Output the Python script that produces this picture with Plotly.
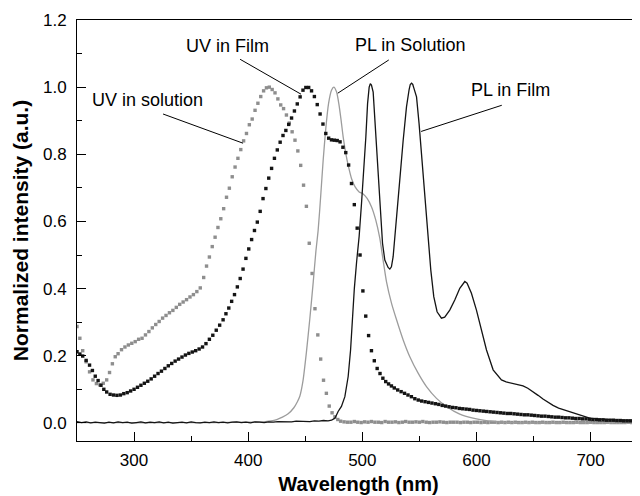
import plotly.graph_objects as go

# ---------------- data ----------------
# UV absorption in solution (grey squares)
uv_sol_x = [250, 252.5, 255, 258, 261, 264, 267, 270, 273, 276, 278.5, 281, 283.5, 286, 289, 292, 295, 298,
            301, 304, 307, 310, 313, 316, 319, 322, 325, 328, 331, 334, 337, 340, 343, 346, 349, 352, 355, 358,
            361, 363.5, 366, 368.5, 371, 373.5, 376, 378.5, 381, 383.5, 386, 388.5, 391, 393.5, 396, 398.5,
            401, 403.5, 406, 408.5, 411, 413.5, 416, 418.5, 421, 423.5, 426, 428.5, 431, 433.5, 436, 438.5,
            441, 443.5, 446, 448.5, 451, 453.5, 456, 458.5, 461, 463.5, 466, 468.5, 471, 473.5, 476, 478.5, 481]
uv_sol_y = [0.287, 0.252, 0.215, 0.182, 0.152, 0.128, 0.117, 0.113, 0.118, 0.128, 0.150, 0.176, 0.197, 0.206,
            0.218, 0.226, 0.232, 0.237, 0.242, 0.249, 0.252, 0.262, 0.272, 0.283, 0.293, 0.302, 0.312, 0.320,
            0.328, 0.335, 0.344, 0.353, 0.360, 0.367, 0.375, 0.382, 0.391, 0.402, 0.433, 0.467, 0.494, 0.525,
            0.553, 0.582, 0.608, 0.638, 0.672, 0.699, 0.733, 0.762, 0.788, 0.814, 0.840, 0.862, 0.888, 0.905,
            0.931, 0.952, 0.972, 0.989, 0.998, 1.000, 0.993, 0.983, 0.965, 0.947, 0.936, 0.917, 0.893, 0.867,
            0.842, 0.810, 0.767, 0.708, 0.645, 0.535, 0.445, 0.340, 0.262, 0.190, 0.127, 0.088, 0.050, 0.030,
            0.018, 0.010, 0.005]
uv_sol_tail_x = [484, 487, 490, 493, 496, 499, 502, 505, 508, 511, 514, 517, 520, 523, 526, 529, 532, 535, 538,
                 541, 544, 547, 550, 553, 556, 559, 562, 565, 568, 571, 574, 577, 580, 583, 586, 589, 592, 595,
                 598, 601, 604, 607, 610, 613, 616, 619, 622, 625, 628, 631, 634, 637, 640, 643, 646, 649, 652,
                 655, 658, 661, 664, 667, 670, 673, 676, 679, 682, 685, 688, 691, 694, 697, 700, 703, 706, 709,
                 712, 715, 718, 721, 724, 727, 730, 733, 736, 739, 742, 745]
uv_sol_tail_y = [0.003, 0.002, 0.002, 0.004, 0.002, 0.001, 0.003, 0.002, 0.004, 0.002,
                 0.002, 0.001, 0.004, 0.002, 0.002, 0.003, 0.001, 0.002, 0.004, 0.002,
                 0.002, 0.003, 0.002, 0.004, 0.002, 0.001, 0.002, 0.002, 0.003, 0.002,
                 0.001, 0.002, 0.002, 0.002, 0.001, 0.002, 0.002, 0.001, 0.002, 0.002,
                 0.001, 0.002, 0.001, 0.002, 0.002, 0.001, 0.002, 0.001, 0.002, 0.001,
                 0.002, 0.001, 0.001, 0.002, 0.001, 0.002, 0.001, 0.001, 0.002, 0.001,
                 0.001, 0.002, 0.001, 0.001, 0.002, 0.001, 0.001, 0.001, 0.002, 0.001,
                 0.001, 0.001, 0.002, 0.001, 0.001, 0.001, 0.001, 0.002, 0.001, 0.001,
                 0.001, 0.001, 0.001, 0.002, 0.001, 0.001, 0.001, 0.001]

# UV absorption in film (black squares)
uv_film_x = [250, 252.5, 255, 258, 261, 263.5, 266, 268.5, 271, 273.5, 276, 279, 282, 285, 288, 291, 294, 297,
             300, 303, 306, 309, 312, 315, 318, 321, 324, 327, 330, 333, 336, 339, 342, 345, 348, 351, 354, 357,
             360, 363, 366, 369, 372, 375, 378, 380.5, 383, 385.5, 388, 390.5, 393, 395.5, 398, 400.5, 403,
             405.5, 408, 410.5, 413, 415.5, 418, 420.5, 423, 425.5, 428, 430.5, 433, 435.5, 438, 440.5, 443,
             445.5, 448, 450.5, 453, 455.5, 458, 460.5, 463, 465.5, 468, 470.5, 473, 475.5, 478, 480.5, 483,
             485.5, 488, 490.5, 493, 495.5, 498, 500.5, 503, 505.5, 508, 510.5, 513, 515.5, 518, 520.5, 523,
             525.5, 528, 531, 534, 537, 540, 543, 546, 549, 552, 555, 558, 561, 564, 567, 570, 573, 576, 579,
             582, 585, 588, 591, 594, 597, 600, 603, 606, 609, 612, 615, 618, 621, 624, 627, 630, 633, 636,
             639, 642, 645, 648, 651, 654, 657, 660, 663, 666, 669, 672, 675, 678, 681, 684, 687, 690, 693,
             696, 699, 702, 705, 708, 711, 714, 717, 720, 723, 726, 729, 732, 735, 738, 741, 744]
uv_film_y = [0.212, 0.205, 0.199, 0.186, 0.172, 0.156, 0.139, 0.126, 0.112, 0.100, 0.092, 0.085, 0.083, 0.082,
             0.083, 0.087, 0.090, 0.095, 0.100, 0.106, 0.112, 0.118, 0.124, 0.131, 0.139, 0.147, 0.154, 0.162,
             0.170, 0.177, 0.184, 0.190, 0.196, 0.202, 0.207, 0.211, 0.215, 0.220, 0.226, 0.236, 0.249, 0.261,
             0.276, 0.291, 0.307, 0.325, 0.342, 0.362, 0.382, 0.405, 0.430, 0.458, 0.490, 0.518, 0.546, 0.573,
             0.598, 0.630, 0.668, 0.698, 0.729, 0.758, 0.788, 0.813, 0.836, 0.856, 0.871, 0.889, 0.908, 0.929,
             0.950, 0.971, 0.991, 0.999, 0.999, 0.989, 0.972, 0.948, 0.920, 0.890, 0.862, 0.848, 0.843, 0.842,
             0.841, 0.837, 0.821, 0.805, 0.768, 0.713, 0.650, 0.580, 0.500, 0.393, 0.318, 0.260, 0.215, 0.185,
             0.162, 0.147, 0.133, 0.123, 0.116, 0.110, 0.104, 0.098, 0.093, 0.088, 0.083, 0.078, 0.072, 0.068,
             0.065, 0.063, 0.061, 0.059, 0.057, 0.055, 0.052, 0.050, 0.048, 0.046, 0.045, 0.043, 0.042, 0.041,
             0.040, 0.038, 0.037, 0.036, 0.035, 0.034, 0.033, 0.032, 0.031, 0.030, 0.029, 0.028, 0.028, 0.027,
             0.026, 0.025, 0.024, 0.024, 0.023, 0.022, 0.021, 0.020, 0.020, 0.019, 0.018, 0.017, 0.017, 0.016,
             0.015, 0.015, 0.014, 0.013, 0.013, 0.012, 0.012, 0.011, 0.010, 0.010, 0.009, 0.009, 0.008, 0.008,
             0.008, 0.007, 0.007, 0.006, 0.006, 0.006, 0.005, 0.005, 0.005]

# PL in solution (grey line)
pl_sol_x = [250, 280, 310, 340, 370, 400, 410, 415, 420, 425, 430, 435, 440, 443, 445.3, 448, 451, 454, 457,
            459.3, 461.3, 463.7, 465.7, 468, 470.4, 473, 475, 477.4, 479.4, 481.2, 483.2, 485.5, 487.9, 490.5,
            493.7, 497.2, 500.7, 504.2, 508, 511.8, 515.3, 518.2, 521.2, 525.6, 530, 535.8, 541.6, 548.9,
            556.2, 565, 573.7, 585.4, 597, 608.7, 623.3, 640, 700, 745]
pl_sol_y = [0.001, 0.001, 0.000, 0.001, 0.001, 0.002, 0.003, 0.004, 0.006, 0.010, 0.017, 0.027, 0.045, 0.062,
            0.080, 0.125, 0.210, 0.310, 0.420, 0.510, 0.574, 0.684, 0.783, 0.877, 0.951, 0.991, 1.000, 0.986,
            0.951, 0.907, 0.852, 0.803, 0.763, 0.728, 0.703, 0.688, 0.682, 0.669, 0.644, 0.604, 0.550, 0.485,
            0.420, 0.356, 0.307, 0.247, 0.197, 0.148, 0.108, 0.073, 0.049, 0.026, 0.014, 0.007, 0.002, 0.000,
            0.000, 0.000]

# PL in film (black line): noisy baseline, then the vibronic bands
pl_film_x = [250, 254, 258, 262, 266, 270, 274, 278, 282, 286, 290, 294, 298, 302, 306, 310, 314, 318, 322,
             326, 330, 334, 338, 342, 346, 350, 354, 358, 362, 366, 370, 374, 378, 382, 386, 390, 394, 398,
             402, 406, 410, 414, 418, 422, 426, 430, 434, 438, 442, 446, 450, 454, 458, 462, 466, 470, 473,
             476, 478.8, 481.7, 484.7, 487.6, 489.7, 491.4, 493, 495, 497.2, 499.3, 501.3, 503.1, 504.6, 506,
             507, 508, 509.5, 511, 512.4, 514.2, 515.9, 517.7, 519.7, 522.6, 524.1, 525.5, 527, 530, 532.8,
             535.8, 538.7, 541, 542, 543.1, 544.2, 545.1, 547.5, 549.7, 551.8, 554.1, 556.2, 558.2, 560,
             562.6, 565.5, 569.3, 572.2, 576.6, 581, 585.4, 589.8, 591.8, 595.6, 600, 604.4, 608.8, 614.6,
             621.9, 626, 630.6, 635, 640.8, 645, 649.6, 654, 658.3, 663, 667.1, 672, 678.8, 684, 690.5, 695,
             699.2, 705, 712, 719.6, 730, 740, 745]
pl_film_y = [0.004, 0.001, 0.003, 0.000, 0.002, 0.001, -0.001, 0.002, 0.000, 0.003, 0.001, 0.002, -0.001,
             0.001, 0.003, 0.000, 0.002, 0.001, 0.003, 0.000, 0.002, -0.001, 0.001, 0.002, 0.000, 0.003, 0.001,
             0.000, 0.002, 0.001, 0.003, 0.001, 0.002, 0.000, 0.002, 0.003, 0.001, 0.002, 0.000, 0.003, 0.002,
             0.001, 0.003, 0.002, 0.004, 0.003, 0.004, 0.003, 0.005, 0.004, 0.005, 0.004, 0.006, 0.005, 0.007,
             0.006, 0.008, 0.014, 0.034, 0.049, 0.078, 0.138, 0.217, 0.316, 0.400, 0.480, 0.555, 0.654, 0.753,
             0.852, 0.951, 1.000, 1.010, 1.006, 0.985, 0.902, 0.803, 0.703, 0.604, 0.535, 0.485, 0.463, 0.458,
             0.465, 0.495, 0.604, 0.723, 0.842, 0.941, 0.993, 1.008, 1.012, 1.008, 0.998, 0.971, 0.892, 0.803,
             0.703, 0.604, 0.525, 0.455, 0.376, 0.331, 0.312, 0.315, 0.336, 0.366, 0.401, 0.421, 0.416, 0.386,
             0.336, 0.277, 0.217, 0.158, 0.128, 0.122, 0.118, 0.116, 0.110, 0.103, 0.093, 0.082, 0.071, 0.060,
             0.052, 0.044, 0.037, 0.030, 0.024, 0.019, 0.014, 0.012, 0.010, 0.009, 0.008, 0.007, 0.006]

# annotation labels
label_texts = ["UV in solution", "UV in Film", "PL in Solution", "PL in Film"]

GREY = "#8e8e8e"
LINE_GREY = "#9c9c9c"
BLACK = "#141414"
FONT = "Liberation Sans, Arial, sans-serif"

fig = go.Figure()
fig.add_trace(go.Scatter(x=uv_sol_x + uv_sol_tail_x, y=uv_sol_y + uv_sol_tail_y, mode="markers",
                         marker=dict(symbol="square", size=3.4, color=GREY, line=dict(width=0)),
                         name="UV in solution", showlegend=False))
fig.add_trace(go.Scatter(x=pl_sol_x, y=pl_sol_y, mode="lines",
                         line=dict(color=LINE_GREY, width=1.3, shape="spline", smoothing=0.6),
                         name="PL in Solution", showlegend=False))
fig.add_trace(go.Scatter(x=uv_film_x, y=uv_film_y, mode="markers",
                         marker=dict(symbol="square", size=3.4, color=BLACK, line=dict(width=0)),
                         name="UV in Film", showlegend=False))
fig.add_trace(go.Scatter(x=pl_film_x, y=pl_film_y, mode="lines",
                         line=dict(color=BLACK, width=1.3),
                         name="PL in Film", showlegend=False))

# label text positions (data coords) and leader lines
label_pos = [(311.8, 0.963), (382.3, 1.123), (541.5, 1.125), (630.2, 0.991)]
leaders = [((325.4, 0.920), (395.5, 0.833)),
           ((392.9, 1.083), (446.3, 0.979)),
           ((523.2, 1.081), (478.5, 0.982)),
           ((622.2, 0.946), (551.5, 0.868))]
for txt, (lx, ly) in zip(label_texts, label_pos):
    fig.add_annotation(x=lx, y=ly, text=txt, showarrow=False, xanchor="center", yanchor="middle",
                       font=dict(family=FONT, size=18, color="black"))
for (x0, y0), (x1, y1) in leaders:
    fig.add_shape(type="line", x0=x0, y0=y0, x1=x1, y1=y1, line=dict(color="black", width=1))

# page body has an 8px margin: figure is 632x488 so it ends at the window edge
fig.update_layout(
    width=632, height=488,
    margin=dict(l=69, r=0, t=12, b=55),
    paper_bgcolor="white", plot_bgcolor="white",
    font=dict(family=FONT, size=17, color="black"),
)
fig.update_xaxes(
    range=[250, 743.3], showgrid=False, zeroline=False, automargin=False,
    showline=True, linecolor="black", linewidth=1, mirror=True,
    ticks="inside", ticklen=9, tickcolor="black", tickwidth=1,
    tick0=0, dtick=100,
    minor=dict(ticks="inside", ticklen=5, dtick=50, tick0=0, tickcolor="black", showgrid=False),
    tickfont=dict(family=FONT, size=17),
    ticklabelstandoff=4,
    title=dict(text="Wavelength (nm)", font=dict(family=FONT, size=20, weight="bold"), standoff=7),
)
fig.update_yaxes(
    range=[-0.054, 1.2], showgrid=False, zeroline=False, automargin=False,
    showline=True, linecolor="black", linewidth=1, mirror=False,
    ticks="inside", ticklen=9, tickcolor="black", tickwidth=1,
    tick0=0, dtick=0.2, tickformat=".1f",
    minor=dict(ticks="inside", ticklen=5, dtick=0.1, tick0=0, tickcolor="black", showgrid=False),
    tickfont=dict(family=FONT, size=17),
    ticklabelstandoff=6,
    title=dict(text="Normalized intensity (a.u.)", font=dict(family=FONT, size=21, weight="bold"), standoff=8),
)

fig.write_html("out.html")
